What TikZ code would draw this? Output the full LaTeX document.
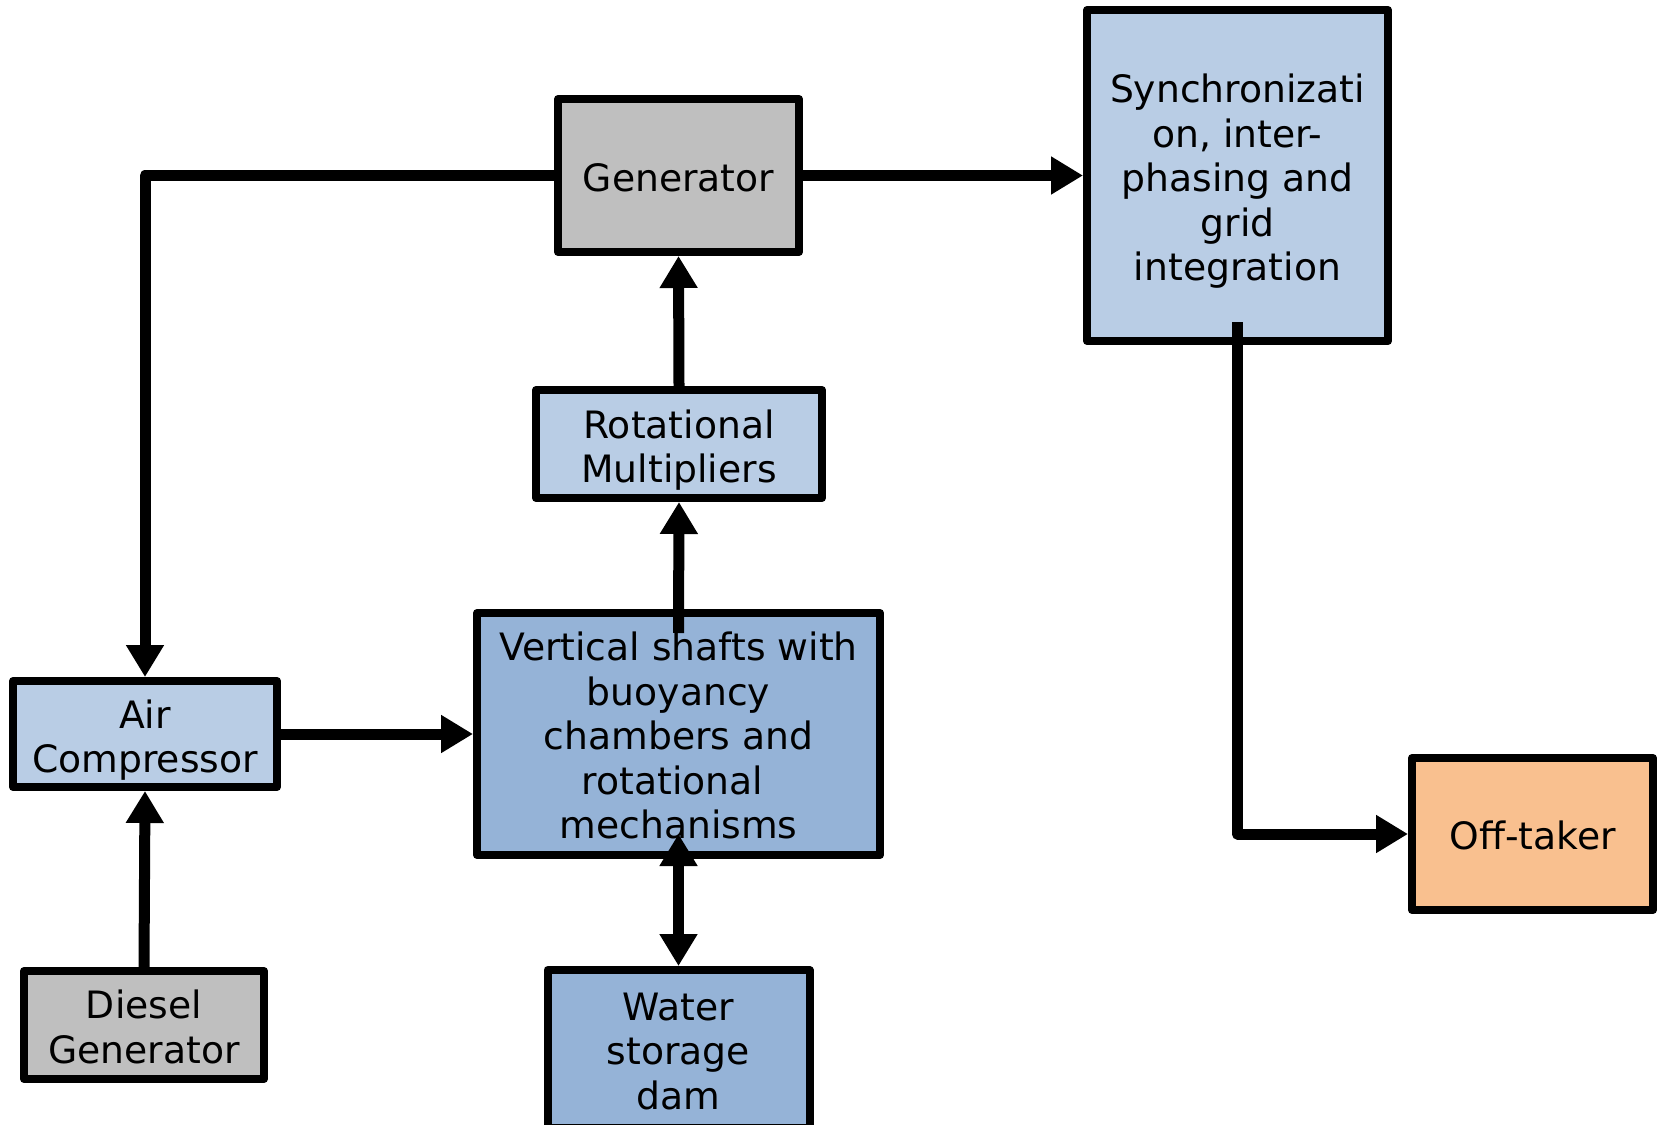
\documentclass[tikz,border=0pt]{standalone}
\usepackage{fontspec}
\setmainfont{DejaVu Sans}
\usetikzlibrary{arrows.meta}
\definecolor{lblue}{HTML}{B9CDE5}
\definecolor{dblue}{HTML}{95B3D7}
\definecolor{lgray}{HTML}{BFBFBF}
\definecolor{lorange}{HTML}{F9C08F}
\newcommand\dnA{\rule{0pt}{40.5pt}}
\newcommand\dnB{\rule{0pt}{32.5pt}}
\tikzset{
  blk/.style={draw=black, line width=8pt, line join=round, align=center, inner sep=0pt,
    font=\fontsize{37.7}{44.5}\selectfont},
  conn/.style={line width=11pt, line join=round, -{Triangle[length=32pt,width=36pt]}},
}
\begin{document}
\begin{tikzpicture}[x=1pt,y=-1pt]
\useasboundingbox (0,0) rectangle (1661,1124);
\node[blk, fill=lgray, minimum width=241pt, minimum height=153pt] (gen) at (678.5,175.5) {\dnB Generator};
\node[blk, fill=lblue, minimum width=301pt, minimum height=331pt] (sync) at (1237.5,175.5) {\dnA Synchronizati\\on, inter-\\phasing and\\grid\\integration};
\node[blk, fill=lblue, minimum width=286pt, minimum height=108pt] (rot) at (679,444) {\dnA Rotational\\Multipliers};
\node[blk, fill=dblue, minimum width=403pt, minimum height=242pt] (shafts) at (678.5,734) {\dnB Vertical shafts with\\buoyancy\\chambers and\\rotational\hphantom{\ }\\mechanisms};
\node[blk, fill=lblue, minimum width=264pt, minimum height=106pt] (air) at (145,734) {\dnA Air\\Compressor};
\node[blk, fill=lgray, minimum width=240pt, minimum height=108pt] (diesel) at (144,1025) {\dnB Diesel\\Generator};
\node[blk, fill=dblue, minimum width=262pt, minimum height=158pt] (dam) at (678.5,1049) {\dnB Water\\storage\\dam};
\node[blk, fill=lorange, minimum width=241pt, minimum height=152pt] (off) at (1532.5,834) {\dnB Off-taker};
\coordinate (sa) at (678.5,633);
\coordinate (sb) at (678.5,834);
\coordinate (sc) at (1237.5,322);
\draw[conn] (gen.west) -| (air.north);
\draw[conn] (gen.east) -- (sync.west);
\draw[conn] (rot.north) -- (gen.south);
\draw[conn] (sa) -- (rot.south);
\draw[conn] (air.east) -- (shafts.west);
\draw[conn] (diesel.north) -- (air.south);
\draw[line width=11pt, {Triangle[length=32pt,width=36pt]}-{Triangle[length=32pt,width=36pt]}] (sb) -- (dam.north);
\draw[conn] (sc) |- (off.west);
\end{tikzpicture}
\end{document}
